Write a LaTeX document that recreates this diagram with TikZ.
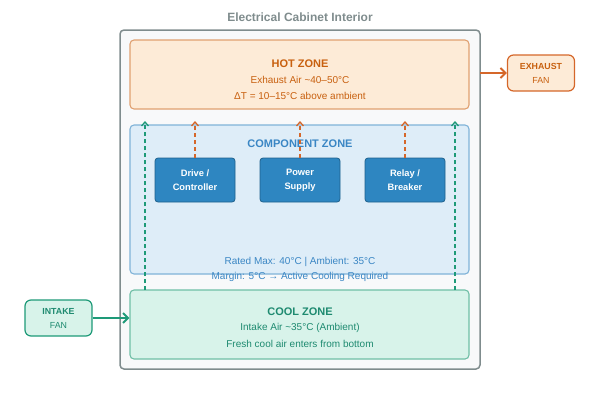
\documentclass[tikz,border=0pt]{standalone}
\usepackage{fontspec}
\setmainfont{Liberation Sans}
\usetikzlibrary{arrows.meta}
\definecolor{cabgray}{HTML}{7F8C8D}
\definecolor{cabfill}{HTML}{F8F9FA}
\definecolor{hotfill}{HTML}{FDEBD7}
\definecolor{hotline}{HTML}{E0A070}
\definecolor{hottext}{HTML}{C8600F}
\definecolor{compfill}{HTML}{DEEDF8}
\definecolor{compline}{HTML}{80B3D8}
\definecolor{comptext}{HTML}{3A86C4}
\definecolor{boxfill}{HTML}{2E86C1}
\definecolor{boxline}{HTML}{1F618D}
\definecolor{coolfill}{HTML}{D8F3EA}
\definecolor{coolline}{HTML}{6FBFA6}
\definecolor{cooltext}{HTML}{1E8A70}
\definecolor{orarrow}{HTML}{D5672A}
\definecolor{tlarrow}{HTML}{1E9A78}
\tikzset{
  zone/.style={draw, rounded corners=4pt, line width=1.1pt, minimum width=339pt, inner sep=0pt},
  compbox/.style={draw=boxline, fill=boxfill, rounded corners=3pt, line width=0.8pt, minimum width=80pt, minimum height=44pt, text=white, font=\fontsize{9.3}{14}\selectfont\bfseries, align=center, inner sep=0pt},
  fanbox/.style={draw, rounded corners=6pt, line width=1.2pt, minimum width=67pt, minimum height=36pt, align=center, font=\fontsize{8.8}{14}\selectfont, inner sep=0pt},
  hotflow/.style={draw=orarrow, line width=1.3pt, dashed, dash pattern=on 4pt off 3pt, -{Straight Barb[length=4pt,width=7pt]}},
  coolflow/.style={draw=tlarrow, line width=1.3pt, dashed, dash pattern=on 4pt off 3pt, -{Straight Barb[length=4pt,width=7pt]}},
  ttl/.style={font=\fontsize{11}{13}\selectfont\bfseries},
  sub/.style={font=\fontsize{10}{12}\selectfont}
}
\begin{document}
\begin{tikzpicture}[x=1pt,y=-1pt]
\useasboundingbox (0,0) rectangle (600,400);
% cabinet
\node[font=\fontsize{12}{14}\selectfont\bfseries, text=cabgray] (title) at (300,17) {Electrical Cabinet Interior};
\draw[draw=cabgray, fill=cabfill, line width=1.5pt, rounded corners=4pt] (120,30) rectangle (480,369);
\coordinate (cabR) at (480,73);
% hot zone
\node[zone, draw=hotline, fill=hotfill, minimum height=69pt] (hot) at (299.5,74.5) {};
\node[ttl, text=hottext] (hott) at (300,64) {HOT ZONE};
\node[sub, text=hottext] (hot1) at (300,80) {Exhaust Air \textasciitilde40–50°C};
\node[sub, text=hottext] (hot2) at (300,96) {ΔT = 10–15°C above ambient};
% component zone
\node[zone, draw=compline, fill=compfill, minimum height=149pt] (comp) at (299.5,199.5) {};
\node[ttl, text=comptext] (compt) at (300,144) {COMPONENT ZONE};
\node[compbox] (drive) at (195,180) {Drive /\\Controller};
\node[compbox] (psu) at (300,180) {Power\\Supply};
\node[compbox] (relay) at (405,180) {Relay /\\Breaker};
% cool zone
\node[zone, draw=coolline, fill=coolfill, minimum height=69pt] (cool) at (299.5,324.5) {};
\node[ttl, text=cooltext] (coolt) at (300,312) {COOL ZONE};
\node[sub, text=cooltext] (cool1) at (300,328) {Intake Air \textasciitilde35°C (Ambient)};
\node[sub, text=cooltext] (cool2) at (300,344) {Fresh cool air enters from bottom};
% component texts
\node[sub, text=comptext] (rated) at (300,262) {Rated Max: 40°C | Ambient: 35°C};
\node[sub, text=comptext] (margin) at (300,277) {Margin: 5°C → Active Cooling Required};
% heat flows
\coordinate (d1) at (195,121);
\coordinate (d2) at (300,121);
\coordinate (d3) at (405,121);
\draw[hotflow] (drive.north) -- (d1);
\draw[hotflow] (psu.north) -- (d2);
\draw[hotflow] (relay.north) -- (d3);
% cool flows
\coordinate (cl0) at (145,290);
\coordinate (cl1) at (145,121);
\coordinate (cr0) at (455,290);
\coordinate (cr1) at (455,121);
\draw[coolflow] (cl0) -- (cl1);
\draw[coolflow] (cr0) -- (cr1);
% fans
\node[fanbox, draw=tlarrow, fill=coolfill, text=cooltext] (intake) at (58.5,318) {\textbf{INTAKE}\\FAN};
\node[fanbox, draw=orarrow, fill=hotfill, text=hottext] (exhaust) at (541,73) {\textbf{EXHAUST}\\FAN};
\draw[draw=tlarrow, line width=2pt, -{Straight Barb[length=5pt,width=10pt]}] (intake.east) -- (intake.east -| cool.west);
\draw[draw=orarrow, line width=2pt, -{Straight Barb[length=5pt,width=10pt]}] (cabR) -- (exhaust.west);
\end{tikzpicture}
\end{document}
